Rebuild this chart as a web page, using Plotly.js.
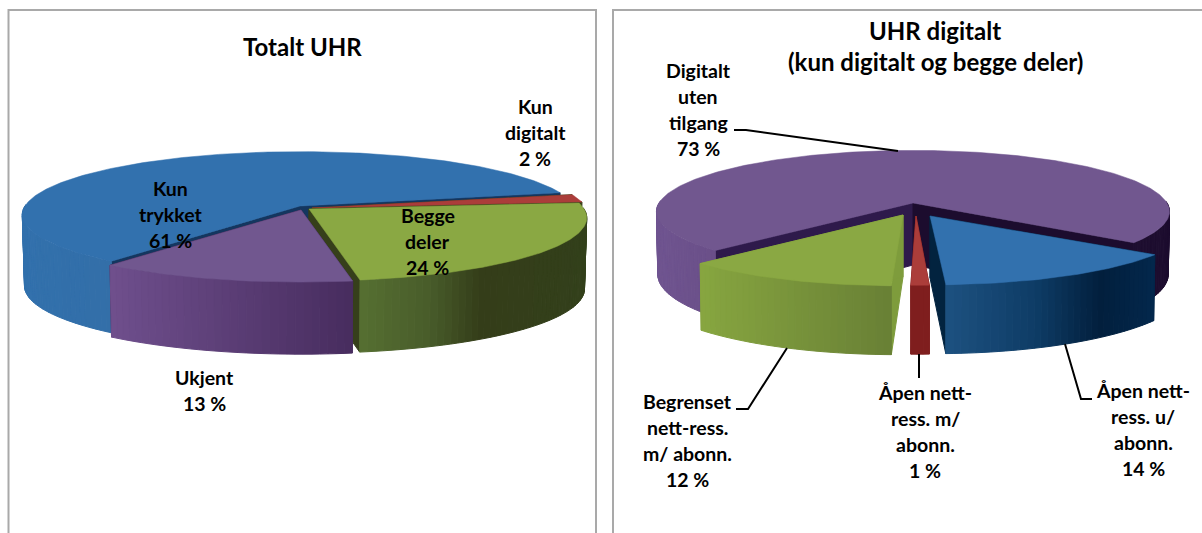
<!DOCTYPE html>
<html>
<head>
<meta charset="utf-8">
<script src="https://cdn.plot.ly/plotly-3.0.1.min.js"></script>
<style>html,body{margin:0;padding:0;background:#fff;overflow:hidden}#chart{width:1202px;height:533px}</style>
</head>
<body>
<div id="chart"></div>
<script>
// ---- data ----
const totalCategories = ["Kun trykket", "Kun digitalt", "Begge deler", "Ukjent"];
const totalValues = [61, 2, 24, 13];
const digitalCategories = ["Digitalt uten tilgang", "Åpen nett-ress. u/ abonn.", "Åpen nett-ress. m/ abonn.", "Begrenset nett-ress. m/ abonn."];
const digitalValues = [73, 14, 1, 12];
const totalLabelLines = [["Kun", "trykket"], ["Kun", "digitalt"], ["Begge", "deler"], ["Ukjent"]];
const digitalLabelLines = [["Digitalt", "uten", "tilgang"], ["Åpen nett-", "ress. u/", "abonn."], ["Åpen nett-", "ress. m/", "abonn."], ["Begrenset", "nett-ress.", "m/ abonn."]];
const totalTitle = ["Totalt UHR"];
const digitalTitle = ["UHR digitalt", "(kun digitalt og begge deler)"];

// ---- geometry and style of the two pseudo-3D pies ----
const FONT = "Lato, Carlito, 'Liberation Sans', sans-serif";
const pies = [
  {
    values: totalValues, names: totalCategories, lines: totalLabelLines,
    start: 127.6, rx: 275, ry: 62, k: 0.14, d: 71, e: 0.1, shrink: 0.992, order: [0, 1, 2, 3],
    slices: [
      {c: [300, 206], top: "#3271ae", cut: "#14365f", wall: [[0, "#3170ad"], [120, "#336fa8"]]},
      {c: [312, 208], top: "#ab3d3a", cut: "#3a421c", wall: [[0, "#7f1e1e"]]},
      {c: [309, 209], top: "#8aa843", cut: "#363f1b", wall: [[364, "#556e31"], [430, "#485c2a"], [480, "#343d19"], [590, "#33401b"]]},
      {c: [301, 210], rxScale: 1.012, top: "#71578f", cut: "#3c2752", wall: [[110, "#6f4f8d"], [355, "#472c5e"]]}
    ],
    label: [[170, 188], [535, 106], [427.5, 215], [204.6, 377]],
    titleX: 302, titleY: [46]
  },
  {
    values: digitalValues, names: digitalCategories, lines: digitalLabelLines,
    start: 134.5, rx: 254, ry: 60, k: 0.14, d: 62, e: 0.7, shrink: 0.995, order: [0, 3, 1, 2],
    slices: [
      {c: [913, 203], top: "#71578f", cut: ["#2e1a4b", "#1c0c2e"], wall: [[656, "#6f5490"], [717, "#6a4f88"], [1125, "#1f0f31"], [1175, "#1c0c2e"]]},
      {c: [934, 215], apex: [930, 216], top: "#3271ae", cut: "#02233f", wall: [[946, "#1d5180"], [1035, "#0e3c66"], [1100, "#021f3d"], [1158, "#03284d"]]},
      {c: [917.5, 215.5], apex: [916, 216], top: "#ab3d3a", cut: "#7f1e1e", wall: [[0, "#7f1e1e"]]},
      {c: [898, 216], apex: [903, 215], top: "#8aa843", cut: "#7e9c3c", wall: [[700, "#87a640"], [895, "#687f35"]]}
    ],
    label: [[698, 70], [1143, 390], [925, 392], [687, 401]],
    titleX: 935, titleY: [30, 61]
  }
];
const LINE_GAP = 26;
const LABEL_SIZE = 19.5;
const TITLE_SIZE = 24;
const leaders = [
  {x: [734, 746, 898], y: [130, 130, 151]},
  {x: [736, 748, 787], y: [409, 409, 348]},
  {x: [919, 919], y: [354, 378]},
  {x: [1065, 1081, 1092], y: [344, 399, 399]}
];

// ---- helpers ----
const rad = a => a * Math.PI / 180;
function project(P, S, a) {
  const c = S.c, u = Math.cos(rad(a)), v = Math.sin(rad(a)), p = 1 / (1 - P.k * v);
  return {x: c[0] + P.rx * (S.rxScale || 1) * u * p, y: c[1] + P.ry * v * p, p, v};
}
function lower(P, c, q) {
  return {x: c[0] + (q.x - c[0]) * P.shrink, y: q.y + P.d * Math.pow(q.p, P.e)};
}
function hex(s) { return [1, 3, 5].map(i => parseInt(s.substr(i, 2), 16)); }
function shade(stops, x) {
  if (x <= stops[0][0] || stops.length === 1) return stops[0][1];
  for (let i = 1; i < stops.length; i++) {
    if (x <= stops[i][0]) {
      const t = (x - stops[i - 1][0]) / (stops[i][0] - stops[i - 1][0]);
      const A = hex(stops[i - 1][1]), B = hex(stops[i][1]);
      return "rgb(" + A.map((v, j) => Math.round(v + (B[j] - v) * t)).join(",") + ")";
    }
  }
  return stops[stops.length - 1][1];
}
function poly(xs, ys, color, name) {
  const t = {
    type: "scatter", mode: "lines", x: xs.concat(xs[0]), y: ys.concat(ys[0]),
    fill: "toself", fillcolor: color, line: {color: color, width: name ? 0.5 : 1},
    showlegend: false
  };
  if (name) { t.hoverinfo = "text"; t.text = name; t.hoveron = "fills"; }
  else t.hoverinfo = "skip";
  return t;
}

const traces = [];
const annotations = [];
function addText(txt, x, y, size) {
  annotations.push({
    text: "<b>" + txt + "</b>", x, y, xref: "x", yref: "y", showarrow: false,
    xanchor: "center", yanchor: "middle", font: {family: FONT, size, color: "#000"}
  });
}

pies.forEach(P => {
  let cum = 0;
  const spans = P.values.map(v => { const a0 = P.start + cum * 3.6; cum += v; return [a0, P.start + cum * 3.6]; });
  P.order.forEach(i => {
    const S = P.slices[i], [a0, a1] = spans[i], c = S.c;
    const apex = S.apex ? {x: S.apex[0], y: S.apex[1], p: 1} : {x: c[0], y: c[1], p: 1};
    const apexLow = {x: apex.x, y: apex.y + P.d};
    // cut faces
    [a0, a1].forEach((a, n) => {
      const q = project(P, S, a), b = lower(P, c, q);
      const col = Array.isArray(S.cut) ? S.cut[n] : S.cut;
      traces.push(poly([apex.x, q.x, b.x, apexLow.x], [apex.y, q.y, b.y, apexLow.y], col));
    });
    // outer wall, strip by strip
    const step = 1.5, strips = [];
    const n = Math.max(1, Math.ceil((a1 - a0) / step));
    for (let j = 0; j < n; j++) {
      const s0 = a0 + (a1 - a0) * j / n, s1 = a0 + (a1 - a0) * (j + 1) / n;
      const m = Math.sin(rad((s0 + s1) / 2));
      if (m > -0.03) strips.push({s0, s1, m});
    }
    strips.sort((A, B) => A.m - B.m).forEach(st => {
      const q0 = project(P, S, st.s0), q1 = project(P, S, st.s1);
      const b0 = lower(P, c, q0), b1 = lower(P, c, q1);
      traces.push(poly([q0.x, q1.x, b1.x, b0.x], [q0.y, q1.y, b1.y, b0.y], shade(S.wall, (q0.x + q1.x) / 2)));
    });
    // top face
    const xs = [apex.x], ys = [apex.y];
    const m = Math.max(2, Math.ceil((a1 - a0) / 1));
    for (let j = 0; j <= m; j++) {
      const q = project(P, S, a0 + (a1 - a0) * j / m);
      xs.push(q.x); ys.push(q.y);
    }
    traces.push(poly(xs, ys, S.top, P.names[i] + ": " + P.values[i] + " %"));
  });
  // labels
  P.lines.forEach((ls, i) => {
    const [lx, ly] = P.label[i];
    ls.concat(P.values[i] + " %").forEach((t, j) => addText(t, lx, ly + j * LINE_GAP, LABEL_SIZE));
  });
});
addText(totalTitle[0], pies[0].titleX, pies[0].titleY[0], TITLE_SIZE);
digitalTitle.forEach((t, i) => addText(t, pies[1].titleX, pies[1].titleY[i], TITLE_SIZE));

leaders.forEach(L => traces.push({
  type: "scatter", mode: "lines", x: L.x, y: L.y, line: {color: "#000", width: 2},
  hoverinfo: "skip", showlegend: false
}));

const panelLine = {color: "#a9a9a9", width: 2};
const layout = {
  width: 1202, height: 533, margin: {l: 0, r: 0, t: 0, b: 0},
  paper_bgcolor: "#fff", plot_bgcolor: "#fff", showlegend: false, hovermode: "closest",
  xaxis: {range: [0, 1202], visible: false, fixedrange: true},
  yaxis: {range: [533, 0], visible: false, fixedrange: true},
  annotations,
  shapes: [
    {type: "rect", xref: "x", yref: "y", x0: 8.5, x1: 596, y0: 10, y1: 560, line: panelLine, fillcolor: "#fff", layer: "below"},
    {type: "rect", xref: "x", yref: "y", x0: 613, x1: 1230, y0: 10, y1: 560, line: panelLine, fillcolor: "#fff", layer: "below"}
  ]
};
Plotly.newPlot("chart", traces, layout, {displayModeBar: false, responsive: false});
</script>
</body>
</html>
